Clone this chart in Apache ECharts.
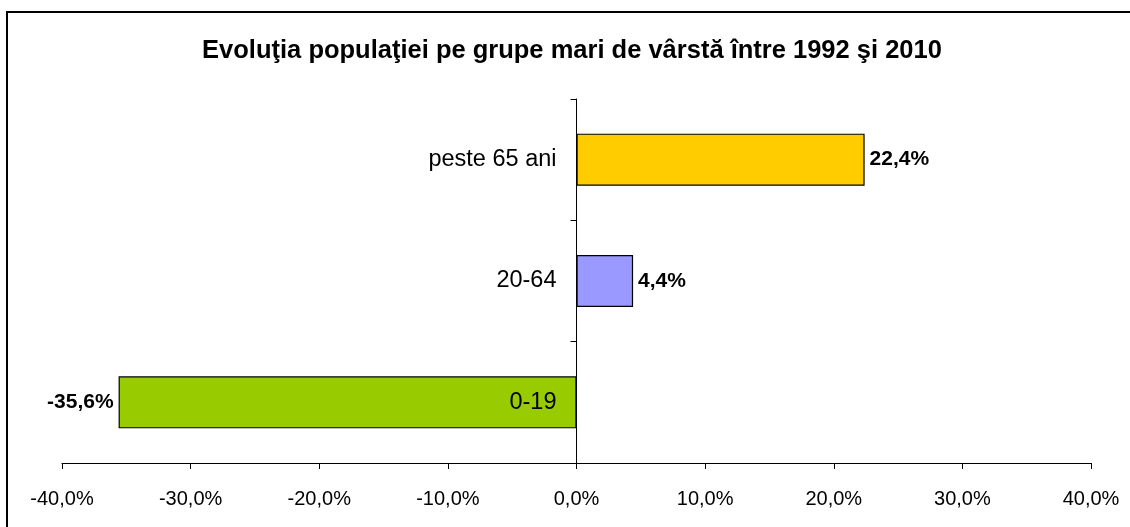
<!DOCTYPE html>
<html><head><meta charset="utf-8">
<script src="https://cdn.jsdelivr.net/npm/echarts@6/dist/echarts.min.js"></script>
<style>html,body{margin:0;padding:0;background:#fff}#c{width:1130px;height:527px}</style>
</head><body><div id="c"></div>
<script>
var categories = ['0-19', '20-64', 'peste 65 ani'];
var values = [-35.6, 4.4, 22.4];
var colors = ['#99CC00', '#9999FF', '#FFCC00'];
var xTicks = [-40, -30, -20, -10, 0, 10, 20, 30, 40];
var titleText = 'Evoluţia populaţiei pe grupe mari de vârstă între 1992 şi 2010';

function fmt(v){ return v.toFixed(1).replace('.', ',') + '%'; }

var gridLeft = 62;
var chart = echarts.init(document.getElementById('c'));
var option = {
  animation: false,
  textStyle: {fontFamily: 'Liberation Sans, Arial, sans-serif'},
  graphic: [{type: 'rect', shape: {x: 7, y: 12, width: 1140, height: 530}, style: {fill: 'none', stroke: '#000', lineWidth: 2}, z: -1}],
  title: {text: titleText, left: 567, textAlign: 'center', top: 33,
    textStyle: {fontSize: 25.5, fontWeight: 'bold', color: '#000', fontFamily: 'Liberation Sans, Arial, sans-serif'}},
  grid: {left: gridLeft, right: 39, top: 99, bottom: 64, containLabel: false, outerBoundsMode: 'none'},
  xAxis: {type: 'value', min: xTicks[0], max: xTicks[xTicks.length-1], interval: 10,
    axisLine: {show: true, onZero: false, lineStyle: {color: '#000', width: 1}},
    axisTick: {show: true, length: 6, lineStyle: {color: '#000'}},
    splitLine: {show: false},
    axisLabel: {margin: 26, fontSize: 20, color: '#000', formatter: function(v){ return fmt(v); }}
  },
  yAxis: {type: 'category', data: categories, z: 10, position: 'left', offset: 0,
    axisLine: {show: true, onZero: false, lineStyle: {color: '#000', width: 1}},
    axisTick: {show: true, inside: false, length: 6, lineStyle: {color: '#000'}},
    axisLabel: {margin: 20, fontSize: 23.5, color: '#000'}
  },
  series: [{
    type: 'bar', barWidth: 52,
    data: values.map(function(v, i){ return {value: v, itemStyle: {color: colors[i]},
      label: {position: v < 0 ? 'left' : 'right'}}; }),
    itemStyle: {borderColor: '#000', borderWidth: 1.2},
    label: {show: true, distance: 5, fontSize: 21, fontWeight: 'bold', color: '#000',
      formatter: function(p){ return fmt(p.value); }}
  }]
};
chart.setOption(option);
var zeroX = chart.convertToPixel({xAxisIndex: 0}, 0);
chart.setOption({yAxis: {offset: -(zeroX - gridLeft)}});
</script></body></html>
